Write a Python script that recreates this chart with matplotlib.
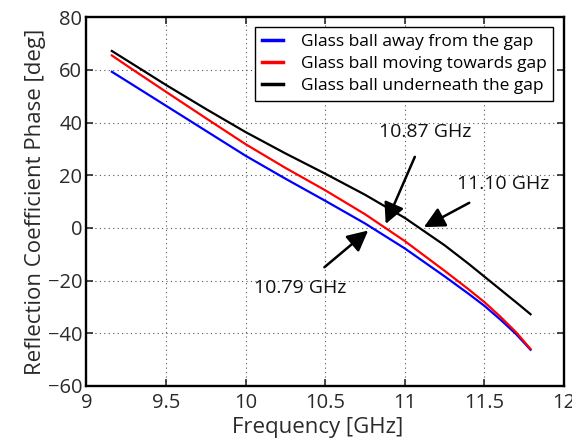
import matplotlib
matplotlib.use("Agg")
import matplotlib.pyplot as plt

plt.rcParams["font.family"] = ["Open Sans", "DejaVu Sans"]

# frequency points [GHz]
freq = [9.16, 9.25, 9.5, 9.75, 10.0, 10.25, 10.5, 10.75, 11.0, 11.25, 11.4, 11.5, 11.6, 11.7, 11.79]

# reflection phase [deg]
phase_away = [59.3, 55.9, 46.4, 36.9, 27.4, 18.7, 10.3, 1.7, -7.8, -18.4, -25.0, -29.6, -34.8, -40.4, -46.3]
phase_moving = [65.5, 61.8, 51.7, 41.7, 31.8, 22.8, 14.3, 5.2, -5.0, -16.3, -23.3, -28.2, -33.7, -39.7, -46.0]
phase_under = [67.2, 63.8, 54.3, 45.2, 36.4, 28.3, 20.6, 12.6, 3.8, -6.6, -13.6, -18.5, -23.4, -28.3, -32.8]

labels = [
    "Glass ball away from the gap",
    "Glass ball moving towards gap",
    "Glass ball underneath the gap",
]

# annotation text, text position and arrow tip (data coords)
notes = [
    ("10.87 GHz", (11.13, 36.3), (10.88, 1.5)),
    ("11.10 GHz", (11.62, 16.5), (11.12, 0.3)),
    ("10.79 GHz", (10.34, -22.8), (10.77, -1.0)),
]

fig = plt.figure(figsize=(5.72, 4.43), dpi=100)
ax = fig.add_axes([0.151, 0.129, 0.835, 0.832])

ax.plot(freq, phase_away, color="#0000ff", lw=1.6, label=labels[0])
ax.plot(freq, phase_moving, color="#ff0000", lw=1.6, label=labels[1])
ax.plot(freq, phase_under, color="black", lw=1.6, label=labels[2])

ax.set_xlim(9, 12)
ax.set_ylim(-60, 80)
ax.set_xticks([9, 9.5, 10, 10.5, 11, 11.5, 12])
ax.set_xticklabels(["9", "9.5", "10", "10.5", "11", "11.5", "12"])
ax.set_yticks(range(-60, 81, 20))
ax.set_yticklabels(["\u221260", "\u221240", "\u221220", "0", "20", "40", "60", "80"])

ax.grid(True, linestyle=(0, (1, 3)), color="#555555", lw=0.8)
ax.tick_params(direction="in", top=True, right=True, length=5, width=1.2,
               labelsize=14.5, colors="#2a2a2a", pad=3)
ax.tick_params(axis="x", pad=5)
for side in ax.spines.values():
    side.set_linewidth(1.7)

ax.set_xlabel("Frequency [GHz]", fontsize=16, color="#2a2a2a", labelpad=0)
ax.xaxis.set_label_coords(0.485, -0.085)
ax.set_ylabel("Reflection Coefficient Phase [deg]", fontsize=16, color="#2a2a2a", labelpad=1)

leg = ax.legend(loc="upper right", bbox_to_anchor=(0.978, 0.974), fontsize=12.5,
                fancybox=False, framealpha=1, edgecolor="black",
                handlelength=1.25, borderpad=0.4, labelspacing=0.35, handletextpad=1.0,
                borderaxespad=0)
leg.get_frame().set_linewidth(1.0)
for line in leg.get_lines():
    line.set_linewidth(2.5)

for text, xy_text, xy_tip in notes:
    ax.annotate(text, xy=xy_tip, xytext=xy_text, ha="center", va="center",
                fontsize=14, color="#111111",
                arrowprops=dict(arrowstyle="-|>,head_length=0.9,head_width=0.45",
                                color="black", lw=1.8, shrinkA=10, shrinkB=0))

fig.savefig("out.png", dpi=100)
